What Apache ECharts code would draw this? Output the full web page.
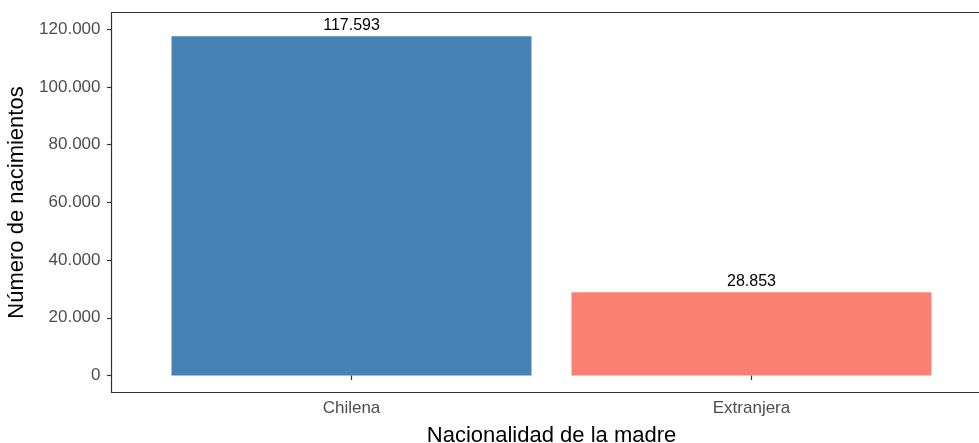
<!DOCTYPE html>
<html>
<head>
<meta charset="utf-8">
<title>Nacimientos por nacionalidad de la madre</title>
<script src="https://cdn.jsdelivr.net/npm/echarts@6/dist/echarts.min.js"></script>
<style>
  html, body { margin: 0; padding: 0; background: #fff; }
  #chart { width: 979px; height: 443px; }
</style>
</head>
<body>
<div id="chart"></div>
<script>
// data
const categories = ['Chilena', 'Extranjera'];
const births = [117593, 28853];
const barColors = ['#4682B4', '#FA8072'];
const yTicks = [0, 20000, 40000, 60000, 80000, 100000, 120000];

function fmtMiles(v) {
  return String(v).replace(/\B(?=(\d{3})+(?!\d))/g, '.');
}

const font = 'Liberation Sans, Arial, Helvetica, sans-serif';

let chart = echarts.init(document.getElementById('chart'), null, { renderer: 'canvas' });

let option = {
  animation: false,
  textStyle: { fontFamily: font },
  grid: {
    left: 111.5,
    top: 12.5,
    width: 880,
    height: 380,
    outerBoundsMode: 'none',
    containLabel: false,
    show: true,
    borderColor: '#333',
    borderWidth: 1.2,
    backgroundColor: 'transparent',
  },
  xAxis: {
    type: 'value',
    min: 0.4,
    max: 2.6,
    name: 'Nacionalidad de la madre',
    nameLocation: 'middle',
    nameGap: 32,
    nameTextStyle: { color: '#000', fontSize: 22, fontFamily: font },
    axisLine: { show: false },
    splitLine: { show: false },
    axisTick: {
      show: true,
      length: 4.5,
      customValues: [1, 2],
      lineStyle: { color: '#333', width: 1.2 },
    },
    axisLabel: {
      customValues: [1, 2],
      margin: 7,
      color: '#4d4d4d',
      fontSize: 17,
      fontFamily: font,
      formatter: v => categories[Math.round(v) - 1],
    },
  },
  yAxis: {
    type: 'value',
    min: -5900,
    max: 125800,
    name: 'Número de nacimientos',
    nameLocation: 'middle',
    nameGap: 82,
    nameTextStyle: { color: '#000', fontSize: 22, fontFamily: font },
    axisLine: { show: false },
    splitLine: { show: false },
    axisTick: {
      show: true,
      length: 4.5,
      customValues: yTicks,
      lineStyle: { color: '#333', width: 1.2 },
    },
    axisLabel: {
      customValues: yTicks,
      margin: 11,
      color: '#4d4d4d',
      fontSize: 17,
      fontFamily: font,
      formatter: v => fmtMiles(v),
    },
  },
  series: [
    {
      type: 'bar',
      barWidth: 360,
      data: births.map((v, i) => ({
        value: [i + 1, v],
        itemStyle: { color: barColors[i] },
      })),
      label: {
        show: true,
        position: 'top',
        distance: 3,
        color: '#000',
        fontSize: 16,
        fontFamily: font,
        formatter: p => fmtMiles(p.value[1]),
      },
    },
  ],
};

chart.setOption(option);
</script>
</body>
</html>
